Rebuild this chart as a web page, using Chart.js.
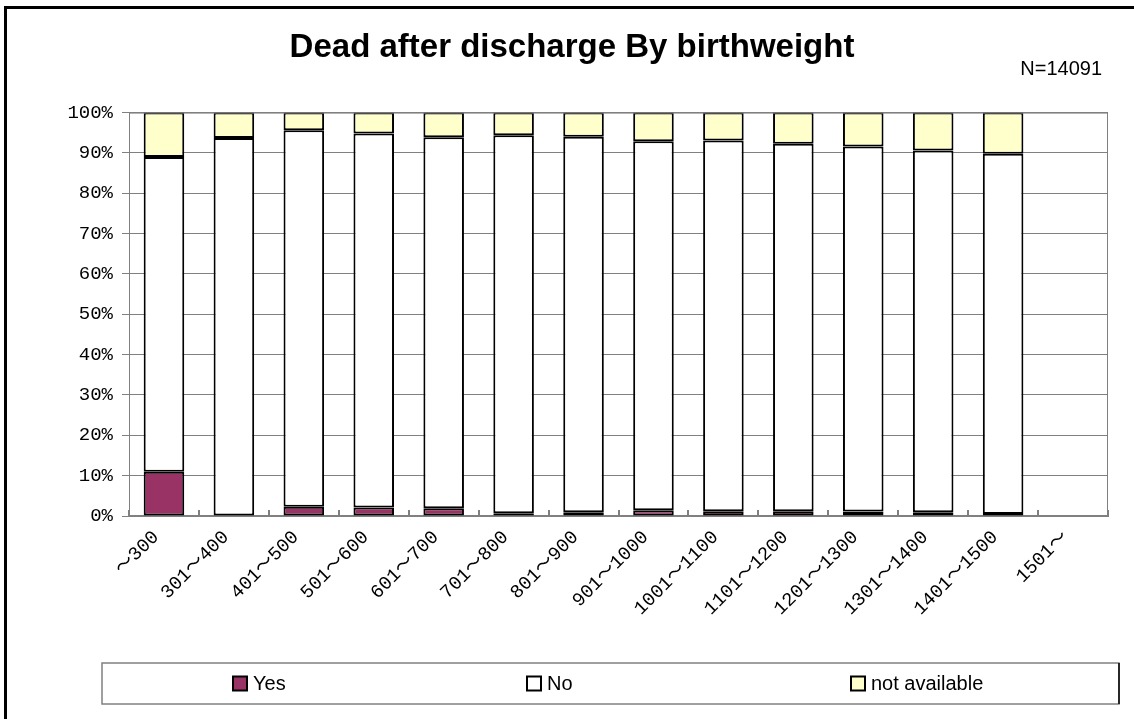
<!DOCTYPE html>
<html>
<head>
<meta charset="utf-8">
<script src="https://cdn.jsdelivr.net/npm/chart.js@4.4.1/dist/chart.umd.min.js"></script>
<style>
html,body{margin:0;padding:0;background:#fff;overflow:hidden;}
#wrap{position:relative;width:1134px;height:719px;}
#frame{position:absolute;left:4px;top:6px;width:1200px;height:800px;border-left:3px solid #000;border-top:3px solid #000;pointer-events:none;}
canvas{position:absolute;left:0;top:0;}
</style>
</head>
<body>
<div id="wrap"><canvas id="chart" width="1134" height="719"></canvas><div id="frame"></div></div>
<script>
// birthweight groups (g)
const categories = ['〜300','301〜400','401〜500','501〜600','601〜700','701〜800','801〜900',
  '901〜1000','1001〜1100','1101〜1200','1201〜1300','1301〜1400','1401〜1500','1501〜'];

// share of each answer, percent
const yesPct = [11.0, 0.1, 2.3, 2.1, 1.9, 0.7, 0.9, 1.4, 1.2, 1.2, 1.1, 0.9, 0.5, null];
const noPct  = [78.0, 93.6, 93.3, 92.7, 92.0, 93.7, 93.1, 91.5, 91.9, 91.1, 90.5, 89.7, 89.3, null];
const naPct  = [11.0, 6.3, 4.4, 5.2, 6.1, 5.6, 6.0, 7.1, 6.9, 7.7, 8.4, 9.4, 10.2, null];

const seriesNames = ['Yes', 'No', 'not available'];
const yTickValues = [0, 10, 20, 30, 40, 50, 60, 70, 80, 90, 100];

const titleText = 'Dead after discharge By birthweight';
const noteText = 'N=14091';

// legend box layout
const legendBox = {left: 102, top: 663, right: 1119, bottom: 704};
const legendItemX = [233, 527, 851];

const monoFont = "'Liberation Mono', 'Noto Sans CJK JP', monospace";

// title note, inner x ticks, plot frame and the boxed legend
const extras = {
  id: 'extras',
  afterDatasetsDraw(chart) {
    const {ctx, chartArea: a, scales: {x}} = chart;
    ctx.save();
    ctx.strokeStyle = '#808080';
    ctx.lineWidth = 1;
    ctx.strokeRect(a.left + 0.5, a.top + 0.5, a.right - a.left - 1, a.bottom - a.top);
    // small ticks pointing up at category boundaries
    const half = (x.getPixelForValue(1) - x.getPixelForValue(0)) / 2;
    ctx.lineWidth = 2;
    for (let i = 0; i <= categories.length; i++) {
      const px = Math.round(x.getPixelForValue(i) - half);
      ctx.beginPath();
      ctx.moveTo(px, a.bottom);
      ctx.lineTo(px, a.bottom - 6);
      ctx.stroke();
    }
    ctx.restore();
  },
  afterDraw(chart) {
    const ctx = chart.ctx;
    ctx.save();
    ctx.fillStyle = '#000';
    ctx.font = "20px 'Liberation Sans', Arial, sans-serif";
    ctx.textAlign = 'right';
    ctx.textBaseline = 'alphabetic';
    ctx.fillText(noteText, 1102, 75);

    // legend frame
    ctx.strokeStyle = '#808080';
    ctx.lineWidth = 1.5;
    ctx.strokeRect(legendBox.left, legendBox.top, legendBox.right - legendBox.left, legendBox.bottom - legendBox.top);
    ctx.strokeStyle = '#000';
    ctx.beginPath();
    ctx.moveTo(legendBox.right, legendBox.top);
    ctx.lineTo(legendBox.right, legendBox.bottom);
    ctx.stroke();

    const midY = (legendBox.top + legendBox.bottom) / 2;
    ctx.textAlign = 'left';
    ctx.textBaseline = 'middle';
    chart.data.datasets.forEach((ds, i) => {
      const bx = legendItemX[i];
      ctx.fillStyle = ds.backgroundColor;
      ctx.fillRect(bx, midY - 7, 14, 14);
      ctx.strokeStyle = '#000';
      ctx.lineWidth = 2;
      ctx.strokeRect(bx, midY - 7, 14, 14);
      ctx.fillStyle = '#000';
      ctx.fillText(ds.label, bx + 20, midY + 1);
    });
    ctx.restore();
  }
};

const barStyle = {borderColor: '#000', borderWidth: 2, borderSkipped: false,
  barPercentage: 0.58, categoryPercentage: 1.0};

new Chart(document.getElementById('chart'), {
  type: 'bar',
  data: {
    labels: categories,
    datasets: [
      Object.assign({label: seriesNames[0], data: yesPct, backgroundColor: '#993366'}, barStyle),
      Object.assign({label: seriesNames[1], data: noPct, backgroundColor: '#ffffff'}, barStyle),
      Object.assign({label: seriesNames[2], data: naPct, backgroundColor: '#ffffcc'}, barStyle)
    ]
  },
  options: {
    responsive: false,
    animation: false,
    devicePixelRatio: 1,
    layout: {padding: {left: 36, right: 26, top: 0, bottom: 63}},
    plugins: {
      legend: {display: false},
      tooltip: {enabled: false},
      title: {
        display: true,
        text: titleText,
        color: '#000',
        font: {family: "'Liberation Sans', Arial, sans-serif", size: 33, weight: 'bold'},
        padding: {top: 28, bottom: 45}
      }
    },
    scales: {
      x: {
        stacked: true,
        offset: true,
        grid: {display: false},
        border: {color: '#808080', width: 2},
        ticks: {
          autoSkip: false, maxRotation: 45, minRotation: 45,
          color: '#000', padding: 2, labelOffset: -8,
          font: {family: monoFont, size: 19}
        },
        afterFit(s) { s.height = 140; }
      },
      y: {
        stacked: true,
        min: 0, max: 100,
        afterBuildTicks(s) { s.ticks = yTickValues.map(v => ({value: v})); },
        ticks: {color: '#000', padding: 9, font: {family: monoFont, size: 19},
          callback: v => v + '%'},
        grid: {color: '#808080', tickLength: 7, tickColor: '#808080', lineWidth: 1},
        border: {color: '#808080', width: 1},
        afterFit(s) { s.width = 93; }
      }
    }
  },
  plugins: [extras]
});
</script>
</body>
</html>
